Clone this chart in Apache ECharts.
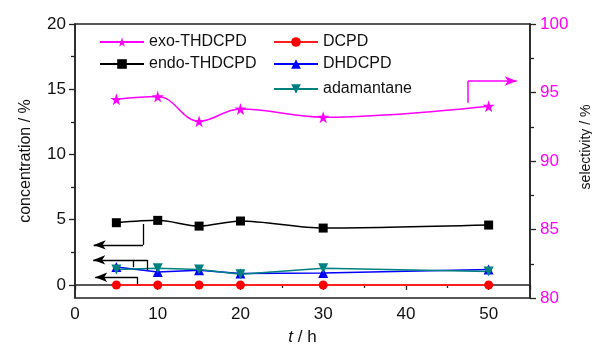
<!DOCTYPE html>
<html>
<head>
<meta charset="utf-8">
<script src="https://cdn.jsdelivr.net/npm/echarts@6/dist/echarts.min.js"></script>
<style>
  html, body { margin: 0; padding: 0; background: #fff; }
  #chart { width: 592px; height: 345px; }
</style>
</head>
<body>
<div id="chart"></div>
<script>
// reaction time, h
const hours = [5, 10, 15, 20, 30, 50]
// selectivity of exo-THDCPD, % (right axis)
const exoTHDCPD = [94.5, 94.7, 92.9, 93.8, 93.2, 94.0]
// concentrations, % (left axis)
const endoTHDCPD = [4.77, 4.95, 4.51, 4.9, 4.36, 4.59]
const DCPD = [0, 0, 0, 0, 0, 0]
const DHDCPD = [1.38, 1.0, 1.12, 0.87, 0.92, 1.18]
const adamantane = [1.18, 1.28, 1.18, 0.82, 1.28, 1.03]

const leftTicks = [0, 5, 10, 15, 20]
const leftMinorTicks = [2.5, 7.5, 12.5, 17.5]

const FONT = 'Liberation Sans, Arial, sans-serif'
const STAR = 'path://M50,0 L61,35 L98,35 L68,57 L79,91 L50,70 L21,91 L32,57 L2,35 L39,35 Z'

const pairs = (ys) => hours.map((h, i) => [h, ys[i]])

// helpers for the arrow annotations
const seg = (a, b, arrow) => [
  { coord: a, symbol: 'none' },
  { coord: b, symbol: arrow ? 'arrow' : 'none', symbolSize: [7, 12] }
]

const chart = echarts.init(document.getElementById('chart'))

const legendItem = (name, left, top) => ({
  data: [name],
  left: left,
  top: top,
  padding: 0,
  itemWidth: 44,
  itemHeight: 12,
  itemGap: 4,
  textStyle: { fontFamily: FONT, fontSize: 16, color: '#111' },
  selectedMode: false
})

const option = {
  animation: false,
  textStyle: { fontFamily: FONT },
  grid: {
    left: 75,
    right: 62,
    top: 24,
    bottom: 47,
    outerBoundsMode: 'none',
    containLabel: false,
    show: true,
    borderColor: '#222',
    borderWidth: 1.5
  },
  legend: [
    legendItem('exo-THDCPD', 99, 34),
    legendItem('endo-THDCPD', 99, 56),
    legendItem('DCPD', 273, 34),
    legendItem('DHDCPD', 273, 56),
    legendItem('adamantane', 273, 81)
  ],
  xAxis: {
    type: 'value',
    min: 0,
    max: 55,
    interval: 10,
    name: '{it|t} / h',
    nameLocation: 'middle',
    nameGap: 31,
    nameTextStyle: {
      fontSize: 17,
      color: '#111',
      rich: { it: { fontStyle: 'italic', fontSize: 17, color: '#111' } }
    },
    axisLine: { lineStyle: { color: '#222', width: 1.5 } },
    axisTick: { length: 5, lineStyle: { color: '#222', width: 1.3 } },
    minorTick: { show: true, splitNumber: 2, length: 3, lineStyle: { color: '#222', width: 1.3 } },
    axisLabel: { fontSize: 17, color: '#111', margin: 8, showMaxLabel: false },
    splitLine: { show: false }
  },
  yAxis: [
    {
      type: 'value',
      position: 'left',
      min: -1,
      max: 20,
      name: 'concentration / %',
      nameLocation: 'middle',
      nameGap: 41,
      nameTextStyle: { fontSize: 16, color: '#111' },
      axisLine: { show: true, lineStyle: { color: '#222', width: 1.5 } },
      axisTick: { show: true, length: 6, customValues: leftTicks, lineStyle: { color: '#222', width: 1.3 } },
      axisLabel: { fontSize: 17, color: '#111', margin: 9, customValues: leftTicks },
      splitLine: { show: false }
    },
    {
      type: 'value',
      position: 'right',
      min: 80,
      max: 100,
      interval: 5,
      name: 'selectivity / %',
      nameLocation: 'middle',
      nameGap: 44,
      nameTextStyle: { fontSize: 14, color: '#111', padding: [0, 0, 0, 28] },
      axisLine: { show: true, lineStyle: { color: '#222', width: 1.5 } },
      axisTick: { show: true, length: 6, lineStyle: { color: '#222', width: 1.3 } },
      minorTick: { show: true, splitNumber: 2, length: 4, lineStyle: { color: '#222', width: 1.3 } },
      axisLabel: { fontSize: 17, color: '#ff00ff', margin: 10 },
      splitLine: { show: false }
    },
    {
      // minor ticks of the left axis
      type: 'value',
      position: 'left',
      offset: 0,
      min: -1,
      max: 20,
      axisLine: { show: false },
      axisTick: { show: true, length: 4, customValues: leftMinorTicks, lineStyle: { color: '#222', width: 1.3 } },
      axisLabel: { show: false },
      splitLine: { show: false }
    }
  ],
  series: [
    {
      name: 'exo-THDCPD',
      type: 'line',
      yAxisIndex: 1,
      data: pairs(exoTHDCPD),
      smooth: 0.4,
      symbol: STAR,
      symbolSize: 12,
      lineStyle: { color: '#ff00ff', width: 1.5 },
      itemStyle: { color: '#ff00ff' },
      z: 5,
      markLine: {
        silent: true,
        emphasis: { disabled: true },
        label: { show: false },
        lineStyle: { color: '#ff00ff', width: 1.5, type: 'solid' },
        data: [
          seg([47.5, 94.26], [47.5, 95.84], false),
          seg([47.5, 95.84], [53.4, 95.84], true)
        ]
      }
    },
    {
      name: 'endo-THDCPD',
      type: 'line',
      yAxisIndex: 0,
      data: pairs(endoTHDCPD),
      smooth: 0.3,
      symbol: 'rect',
      symbolSize: 9,
      lineStyle: { color: '#000', width: 1.5 },
      itemStyle: { color: '#000' },
      markLine: {
        silent: true,
        emphasis: { disabled: true },
        label: { show: false },
        lineStyle: { color: '#000', width: 1.3, type: 'solid' },
        data: [
          seg([8.23, 4.67], [8.23, 3.07], false),
          seg([8.23, 3.07], [2.26, 3.07], true),
          seg([8.72, 1.92], [2.2, 1.92], true),
          seg([8.72, 1.92], [8.72, 1.15], false),
          seg([7.1, 1.92], [7.1, 1.36], false),
          seg([7.58, 0.59], [2.44, 0.59], true),
          seg([7.58, 0.59], [7.58, 0.05], false)
        ]
      }
    },
    {
      name: 'DCPD',
      type: 'line',
      yAxisIndex: 0,
      data: pairs(DCPD),
      symbol: 'circle',
      symbolSize: 9,
      lineStyle: { color: '#ff2020', width: 2 },
      itemStyle: { color: '#ff0000' }
    },
    {
      name: 'DHDCPD',
      type: 'line',
      yAxisIndex: 0,
      data: pairs(DHDCPD),
      symbol: 'triangle',
      symbolSize: 10,
      lineStyle: { color: '#0000ff', width: 1.5 },
      itemStyle: { color: '#0000ff' }
    },
    {
      name: 'adamantane',
      type: 'line',
      yAxisIndex: 0,
      data: pairs(adamantane),
      symbol: 'triangle',
      symbolRotate: 180,
      symbolSize: 10,
      lineStyle: { color: '#008080', width: 1.5 },
      itemStyle: { color: '#008080' }
    }
  ]
}

chart.setOption(option)
</script>
</body>
</html>
